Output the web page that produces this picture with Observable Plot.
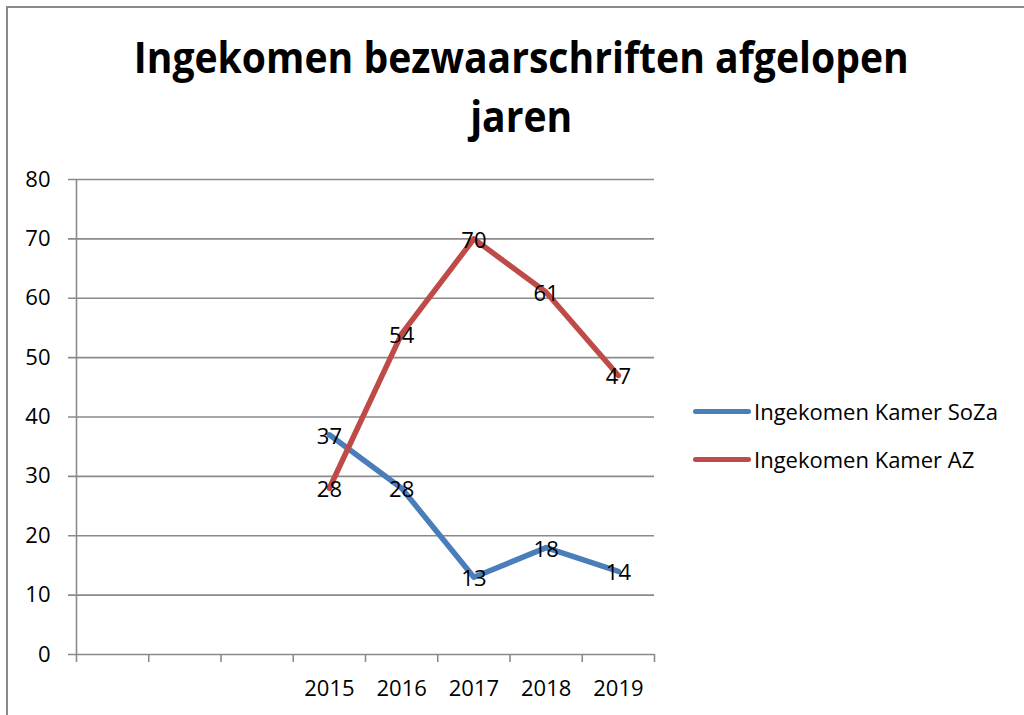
<!DOCTYPE html>
<html>
<head>
<meta charset="utf-8">
<script src="https://cdn.jsdelivr.net/npm/d3@7"></script>
<script src="https://cdn.jsdelivr.net/npm/@observablehq/plot@0.6"></script>
<style>
html, body { margin: 0; padding: 0; width: 1024px; height: 715px; overflow: hidden; background: #fff; font-family: "Open Sans", sans-serif; }
#frame { position: absolute; left: 6px; top: 6px; width: 1100px; height: 800px; border: 2px solid #8a8a8a; box-sizing: border-box; }
#chart { position: absolute; left: 0; top: 0; }
.title { position: absolute; left: 0; width: 1042px; text-align: center; font-weight: 700; font-size: 40px; color: #000; line-height: 1; white-space: nowrap; }
.title span { display: inline-block; transform-origin: center; }
#legend { position: absolute; left: 693px; top: 0; font-size: 22px; color: #000; }
.lg { position: absolute; left: 0; white-space: nowrap; display: flex; align-items: center; }
.lg i { display: inline-block; width: 58px; height: 5px; border-radius: 3px; margin-right: 3px; }
</style>
</head>
<body>
<div id="frame"></div>
<div id="chart"></div>
<div class="title" id="t1" style="top:37px"><span>Ingekomen bezwaarschriften afgelopen</span></div>
<div class="title" id="t2" style="top:96px"><span>jaren</span></div>
<div id="legend"></div>
<script>
const categories = ["", "", "", "2015", "2016", "2017", "2018", "2019"];
const years = ["2015", "2016", "2017", "2018", "2019"];
const seriesNames = ["Ingekomen Kamer SoZa", "Ingekomen Kamer AZ"];
const sozaValues = [37, 28, 13, 18, 14];
const azValues = [28, 54, 70, 61, 47];
const seriesColors = ["#4A7EBB", "#BE4B48"];
const yTicks = [0, 10, 20, 30, 40, 50, 60, 70, 80];

const seriesValues = [sozaValues, azValues];
const table = [];
seriesNames.forEach((name, s) => {
  years.forEach((yr, i) => {
    table.push({series: name, year: yr, xi: categories.indexOf(yr) + 0.5, value: seriesValues[s][i]});
  });
});
const boundaries = d3.range(0, categories.length + 1);
const yearCenters = years.map(yr => categories.indexOf(yr) + 0.5);

const gray = "#8a8a8a";
const chart = Plot.plot({
  width: 1024,
  height: 715,
  marginLeft: 76,
  marginRight: 370,
  marginTop: 179,
  marginBottom: 61,
  style: {fontFamily: "Open Sans, sans-serif", fontSize: "22px", background: "transparent", color: "#000"},
  x: {type: "linear", domain: [0, categories.length], axis: null, label: null},
  y: {domain: [0, 80], axis: null, label: null},
  color: {domain: seriesNames, range: seriesColors},
  marks: [
    Plot.ruleY(yTicks, {stroke: gray, strokeWidth: 1.6, insetLeft: -8}),
    Plot.ruleX([0], {stroke: gray, strokeWidth: 1.6}),
    Plot.axisX({ticks: boundaries, tickSize: 8, tickFormat: () => "", label: null, stroke: gray, strokeWidth: 1.6, strokeOpacity: 1}),
    Plot.axisX({ticks: yearCenters, tickSize: 0, tickPadding: 26, tickFormat: v => categories[Math.floor(v)], label: null, fontSize: 22, fill: "#000"}),
    Plot.axisY({ticks: yTicks, tickSize: 0, tickPadding: 26, label: null, fontSize: 22, fill: "#000"}),
    Plot.line(table, {x: "xi", y: "value", z: "series", stroke: "series", strokeWidth: 5.5, strokeLinecap: "round", strokeLinejoin: "round"}),
    Plot.text(table, {x: "xi", y: "value", dy: 2, text: d => String(d.value), fontSize: 22, fill: "#000"})
  ]
});
document.getElementById("chart").appendChild(chart);

// fit title width to reference
const tspan1 = document.querySelector("#t1 span");
const w1 = tspan1.getBoundingClientRect().width;
const sx = 775 / w1;
tspan1.style.transform = `scale(${sx}, 1.08)`;
document.querySelector("#t2 span").style.transform = `scale(${sx}, 1.08)`;

const legend = document.getElementById("legend");
const legendTops = [396, 444];
seriesNames.forEach((name, i) => {
  const row = document.createElement("div");
  row.className = "lg";
  row.style.top = legendTops[i] + "px";
  const sw = document.createElement("i");
  sw.style.background = seriesColors[i];
  row.appendChild(sw);
  row.appendChild(document.createTextNode(name));
  legend.appendChild(row);
});
</script>
</body>
</html>
